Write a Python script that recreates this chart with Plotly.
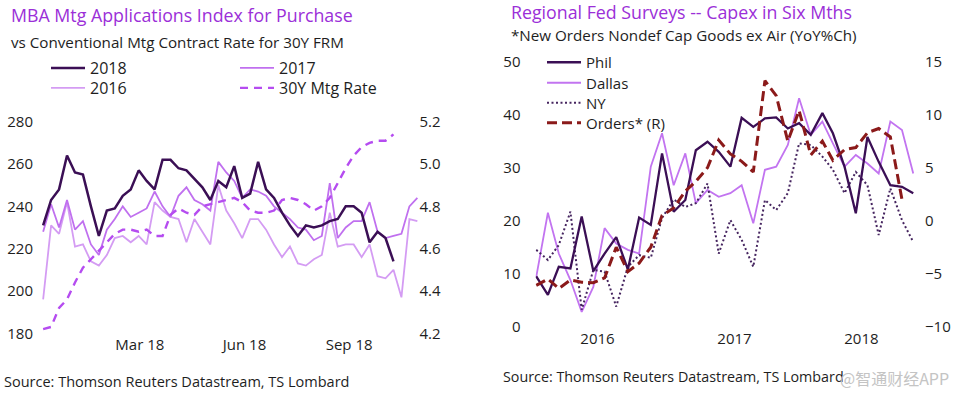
import pandas as pd
import plotly.graph_objects as go

# ---------------- Left chart data (weekly) ----------------
mba_2018 = [231, 243, 248, 264, 256, 255, 240, 226, 238, 239, 245, 248, 257, 252, 248,
            262, 262, 258, 257, 253, 249, 243, 252, 249, 259, 244, 246, 261, 248, 244,
            237, 231, 226, 231, 230, 231, 233, 234, 240, 240, 237, 223, 228, 225, 214]
mba_2017 = [228, 241, 230, 243, 229, 233, 222, 217, 229, 234, 240, 235, 237, 239, 247,
            240, 235, 245, 249, 243, 241, 238, 261, 256, 252, 244, 248, 247, 245, 240,
            237, 234, 230, 229, 224, 226, 251, 225, 230, 233, 233, 242, 228, 225, 226,
            227, 240, 244]
mba_2016 = [196, 231, 227, 242, 221, 222, 214, 212, 217, 225, 226, 223, 226, 222, 242,
            238, 235, 234, 223, 234, 228, 222, 250, 238, 232, 225, 234, 234, 229, 222,
            216, 221, 213, 212, 215, 217, 237, 221, 222, 222, 216, 222, 207, 206, 210,
            197, 234, 233]
mtg_rate_30y = [4.22, 4.23, 4.32, 4.36, 4.44, 4.51, 4.55, 4.59, 4.63, 4.67, 4.69, 4.69,
                4.68, 4.69, 4.66, 4.66, 4.76, 4.79, 4.77, 4.76, 4.80, 4.81, 4.82, 4.83,
                4.84, 4.82, 4.78, 4.77, 4.77, 4.78, 4.83, 4.84, 4.83, 4.81, 4.78, 4.80,
                4.84, 4.91, 4.98, 5.04, 5.08, 5.10, 5.11, 5.11, 5.14]
weeks = pd.date_range("2017-12-06", periods=48, freq="7D")
left_tick_dates = ["2018-03-01", "2018-06-01", "2018-09-01"]
left_tick_text = ["Mar 18", "Jun 18", "Sep 18"]
left_y_ticks = [180, 200, 220, 240, 260, 280]
left_y2_ticks = [4.2, 4.4, 4.6, 4.8, 5.0, 5.2]

# ---------------- Right chart data (monthly) ----------------
phil = [9.5, 6.0, 11.3, 11.0, 20.8, 10.5, 13.8, 16.9, 10.8, 20.6, 19.2, 32.7, 21.7, 23.9,
        33.3, 34.9, 33.0, 30.2, 39.4, 37.7, 39.3, 39.5, 37.4, 38.4, 36.2, 40.3, 36.5,
        30.2, 21.4, 35.8, 31.1, 26.7, 26.4, 25.2]
dallas = [9.4, 21.5, 13.8, 8.8, 2.8, 7.5, 18.6, 15.7, 14.5, 13.8, 30.2, 36.5, 26.7, 32.7,
          23.3, 25.8, 24.5, 25.2, 26.7, 19.5, 29.6, 30.2, 34.3, 43.1, 36.2, 38.7, 34.6,
          30.2, 32.4, 30.8, 28.9, 38.7, 37.1, 28.9]
ny = [14.5, 12.6, 15.4, 21.7, 3.2, 10.7, 10.4, 3.8, 11.3, 13.5, 13.0, 20.5, 24.0, 22.6,
      23.3, 27.0, 13.8, 20.1, 16.4, 11.3, 23.9, 22.0, 25.2, 34.6, 34.3, 32.1, 29.6, 25.2,
      29.2, 26.7, 17.3, 26.1, 20.1, 16.0]
orders = [-6.1, -5.5, -6.4, -5.6, -5.8, -5.85, -5.4, -2.5, -4.8, -4.0, -2.5, 0.5, 1.2,
          2.8, 3.7, 5.0, 7.6, 6.3, 5.6, 4.6, 13.2, 11.8, 7.5, 10.4, 6.2, 7.5, 5.7, 6.7,
          6.9, 8.3, 8.7, 7.9, 2.0]
months = pd.date_range("2016-01-01", periods=34, freq="MS")
right_tick_dates = ["2016-06-12", "2017-06-12", "2018-05-16"]
right_tick_text = ["2016", "2017", "2018"]
right_y_ticks = [0, 10, 20, 30, 40, 50]
right_y2_ticks = [-10, -5, 0, 5, 10, 15]

# ---------------- Styling ----------------
W, H = 960, 396
FONT = "Open Sans"
PURPLE_TITLE = "#9b2fd8"
DARK = "#3b0f55"
C2017 = "#c070ef"
C2016 = "#d49cf3"
CRATE = "#b54cf0"
DALLAS = "#c274f0"
NYC = "#45245f"
ORD = "#8b1a1a"
TXT = "#1e1e1e"


def px(x):
    return x / W


def py(y):
    return 1 - y / H


fig = go.Figure()

# Left chart traces
fig.add_trace(go.Scatter(x=weeks[:len(mba_2016)], y=mba_2016, name="2016", mode="lines",
                         line=dict(color=C2016, width=1.8), xaxis="x", yaxis="y",
                         legend="legend3"))
fig.add_trace(go.Scatter(x=weeks[:len(mba_2017)], y=mba_2017, name="2017", mode="lines",
                         line=dict(color=C2017, width=1.8), xaxis="x", yaxis="y",
                         legend="legend2"))
fig.add_trace(go.Scatter(x=weeks[:len(mtg_rate_30y)], y=mtg_rate_30y, name="30Y Mtg Rate",
                         mode="lines", line=dict(color=CRATE, width=2.4, dash="8px,6px"),
                         xaxis="x", yaxis="y2", legend="legend4"))
fig.add_trace(go.Scatter(x=weeks[:len(mba_2018)], y=mba_2018, name="2018", mode="lines",
                         line=dict(color=DARK, width=2.5), xaxis="x", yaxis="y",
                         legend="legend"))

# Right chart traces
fig.add_trace(go.Scatter(x=months[:len(dallas)], y=dallas, name="Dallas", mode="lines",
                         line=dict(color=DALLAS, width=1.8), xaxis="x2", yaxis="y3",
                         legend="legend6"))
fig.add_trace(go.Scatter(x=months[:len(ny)], y=ny, name="NY", mode="lines",
                         line=dict(color=NYC, width=2, dash="2px,2.5px"), xaxis="x2",
                         yaxis="y3", legend="legend7"))
fig.add_trace(go.Scatter(x=months[:len(phil)], y=phil, name="Phil", mode="lines",
                         line=dict(color=DARK, width=2.3), xaxis="x2", yaxis="y3",
                         legend="legend5"))
fig.add_trace(go.Scatter(x=months[:len(orders)], y=orders, name="Orders* (R)", mode="lines",
                         line=dict(color=ORD, width=3, dash="10px,5px"), xaxis="x2",
                         yaxis="y4", legend="legend8"))

tickfont = dict(family=FONT, size=15, color=TXT)
axis_common = dict(showgrid=False, zeroline=False, showline=False, ticks="",
                   tickfont=tickfont, automargin=False, fixedrange=True)

lx0, lx1 = 42, 418.5
rx0, rx1 = 535.5, 914


def legend_at(x, y_center, size=16):
    return dict(x=px(x), y=py(y_center - size), xanchor="left", yanchor="top",
                bgcolor="rgba(0,0,0,0)", font=dict(family=FONT, size=size, color=TXT),
                itemwidth=34)


fig.update_layout(
    width=W, height=H,
    margin=dict(l=0, r=0, t=0, b=0),
    paper_bgcolor="white", plot_bgcolor="white",
    font=dict(family=FONT, color=TXT),
    xaxis=dict(domain=[px(lx0), px(lx1)], anchor="y",
               range=[weeks[0] - pd.Timedelta(days=1), weeks[-1] + pd.Timedelta(days=1)],
               tickvals=left_tick_dates, ticktext=left_tick_text,
               ticklabelstandoff=1, **axis_common),
    yaxis=dict(domain=[py(333.3), py(121.7)], anchor="x", range=[180, 280],
               tickvals=left_y_ticks, ticklabelstandoff=8, **axis_common),
    yaxis2=dict(domain=[py(333.3), py(121.7)], anchor="x", overlaying="y", side="right",
                range=[4.2, 5.2], tickvals=left_y2_ticks, tickformat=".1f",
                ticklabelstandoff=0, **axis_common),
    xaxis2=dict(domain=[px(rx0), px(rx1)], anchor="y3",
                range=[months[0] - pd.Timedelta(days=2), months[-1] + pd.Timedelta(days=2)],
                tickvals=right_tick_dates, ticktext=right_tick_text,
                ticklabelstandoff=1, **axis_common),
    yaxis3=dict(domain=[py(326.7), py(61.7)], anchor="x2", range=[0, 50],
                tickvals=right_y_ticks, ticklabelstandoff=14, **axis_common),
    yaxis4=dict(domain=[py(326.7), py(61.7)], anchor="x2", overlaying="y3", side="right",
                range=[-10, 15], tickvals=right_y2_ticks, ticklabelstandoff=10,
                **axis_common),
    showlegend=True,
    legend=legend_at(46, 67),
    legend2=legend_at(235, 67),
    legend3=legend_at(46, 87),
    legend4=legend_at(235, 87),
    legend5=legend_at(542, 61, 15),
    legend6=legend_at(542, 81.5, 15),
    legend7=legend_at(542, 101.5, 15),
    legend8=legend_at(542, 121.5, 15),
)

annots = [
    ("MBA Mtg Applications Index for Purchase", 9, 15, 17.8, PURPLE_TITLE),
    ("vs Conventional Mtg Contract Rate for 30Y FRM", 9, 42, 15.2, TXT),
    ("Regional Fed Surveys -- Capex in Six Mths", 509, 12, 17.8, PURPLE_TITLE),
    ("*New Orders Nondef Cap Goods ex Air (YoY%Ch)", 509, 35, 15.2, TXT),
    ("Source: Thomson Reuters Datastream, TS Lombard", 2, 381, 14.5, TXT),
    ("Source: Thomson Reuters Datastream, TS Lombard", 501, 376, 14.3, TXT),
]
for text, x, y, size, color in annots:
    fig.add_annotation(text=text, x=px(x), y=py(y), xref="paper", yref="paper",
                       xanchor="left", yanchor="middle", showarrow=False,
                       font=dict(family=FONT, size=size, color=color))

fig.add_annotation(text="@智通财经APP", x=px(838), y=py(378), xref="paper", yref="paper",
                   xanchor="left", yanchor="middle", showarrow=False,
                   font=dict(family="Noto Sans CJK SC", size=16, color="#c4c4c4"))

fig.write_html("out.html", config={"displayModeBar": False},
               post_script="document.body.style.margin='0px';")
